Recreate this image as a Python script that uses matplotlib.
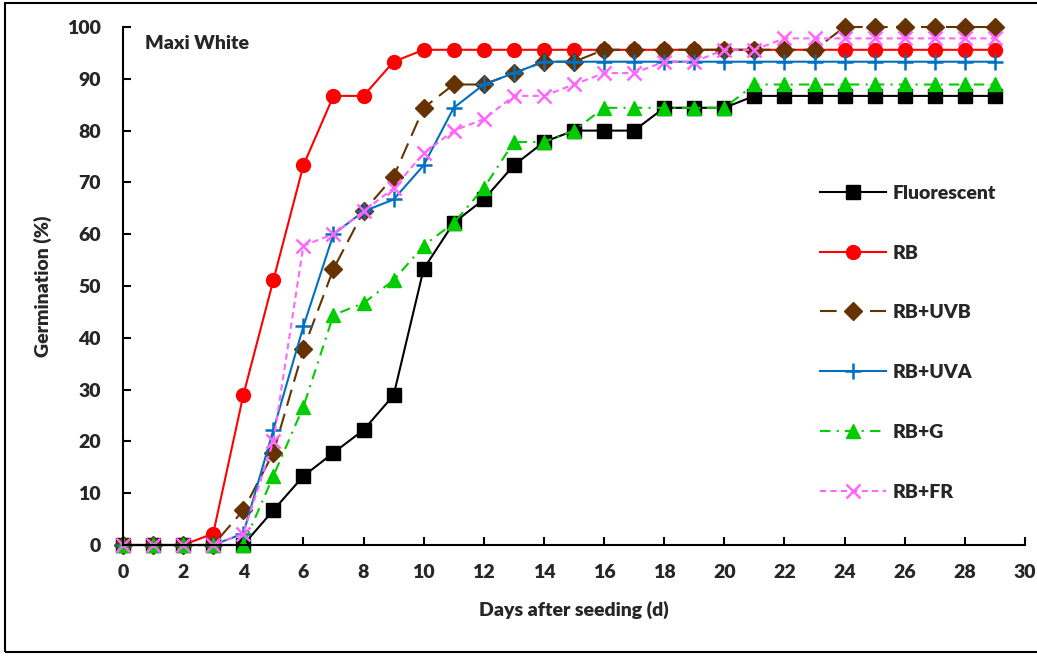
import numpy as np
import matplotlib.pyplot as plt
from matplotlib.patches import Rectangle

plt.rcParams['font.family'] = ['Lato', 'DejaVu Sans']
plt.rcParams['font.weight'] = 'heavy'
plt.rcParams['axes.labelweight'] = 'heavy'

days = np.arange(0, 30)

fluorescent = [0, 0, 0, 0, 0, 6.7, 13.3, 17.8, 22.2, 28.9, 53.3, 62.2, 66.7, 73.3, 77.8,
               80.0, 80.0, 80.0, 84.4, 84.4, 84.4, 86.7, 86.7, 86.7, 86.7, 86.7, 86.7, 86.7, 86.7, 86.7]
rb = [0, 0, 0, 2.2, 28.9, 51.1, 73.3, 86.7, 86.7, 93.3, 95.6, 95.6, 95.6, 95.6, 95.6,
      95.6, 95.6, 95.6, 95.6, 95.6, 95.6, 95.6, 95.6, 95.6, 95.6, 95.6, 95.6, 95.6, 95.6, 95.6]
rb_uvb = [0, 0, 0, 0, 6.7, 17.8, 37.8, 53.3, 64.4, 71.1, 84.4, 88.9, 88.9, 91.1, 93.3,
          93.3, 95.6, 95.6, 95.6, 95.6, 95.6, 95.6, 95.6, 95.6, 100, 100, 100, 100, 100, 100]
rb_uva = [0, 0, 0, 0, 2.2, 22.2, 42.2, 60.0, 64.4, 66.7, 73.3, 84.4, 88.9, 91.1, 93.3,
          93.3, 93.3, 93.3, 93.3, 93.3, 93.3, 93.3, 93.3, 93.3, 93.3, 93.3, 93.3, 93.3, 93.3, 93.3]
rb_g = [0, 0, 0, 0, 0, 13.3, 26.7, 44.4, 46.7, 51.1, 57.8, 62.2, 68.9, 77.8, 77.8,
        80.0, 84.4, 84.4, 84.4, 84.4, 84.4, 88.9, 88.9, 88.9, 88.9, 88.9, 88.9, 88.9, 88.9, 88.9]
rb_fr = [0, 0, 0, 0, 2.2, 20.0, 57.8, 60.0, 64.4, 68.9, 75.6, 80.0, 82.2, 86.7, 86.7,
         88.9, 91.1, 91.1, 93.3, 93.3, 95.6, 95.6, 97.8, 97.8, 97.8, 97.8, 97.8, 97.8, 97.8, 97.8]

txt = '#262626'

fig = plt.figure(figsize=(10.37, 6.56), dpi=100)
ax = fig.add_axes([123 / 1037, 1 - 545 / 656, (1025 - 123) / 1037, (545 - 27) / 656])

lw = 1.5
ax.plot(days, fluorescent, color='black', lw=lw, marker='s', ms=10, label='Fluorescent', clip_on=False)
ax.plot(days, rb, color='#FF0000', lw=lw, marker='o', ms=10, label='RB', clip_on=False)
ax.plot(days, rb_uvb, color='#663300', lw=lw, ls=(0, (8, 4)), marker='D', ms=9,
        label='RB+UVB', clip_on=False)
ax.plot(days, rb_uva, color='#0070C0', lw=lw, marker='+', ms=11, mew=1.8,
        label='RB+UVA', clip_on=False)
ax.plot(days, rb_g, color='#00CC00', lw=lw, ls=(0, (5, 3, 1, 3)), marker='^', ms=10,
        label='RB+G', clip_on=False)
ax.plot(days, rb_fr, color='#FF66FF', lw=lw, ls=(0, (3, 2)), marker='x', ms=10, mew=1.8,
        label='RB+FR', clip_on=False)

ax.set_xlim(0, 30)
ax.set_ylim(0, 100)
ax.set_xticks(np.arange(0, 31, 2))
ax.set_yticks(np.arange(0, 101, 10))
for s in ['top', 'right']:
    ax.spines[s].set_visible(False)
for s in ['left', 'bottom']:
    ax.spines[s].set_linewidth(1.5)
ax.tick_params(direction='in', length=6, width=1.5, labelsize=14, labelcolor=txt)
ax.tick_params(axis='y', pad=16)
ax.tick_params(axis='x', pad=14)

ax.set_xlabel('Days after seeding (d)', fontsize=14, color=txt, labelpad=14)
ax.set_ylabel('Germination (%)', fontsize=14, color=txt, labelpad=11)

ax.text(0.024, 0.985, 'Maxi White', transform=ax.transAxes, fontsize=14, color=txt,
        ha='left', va='top')

leg = ax.legend(loc='upper left', bbox_to_anchor=(810 / 1037, 1 - 175 / 656),
                bbox_transform=fig.transFigure, frameon=False, fontsize=14,
                handlelength=3.4, handletextpad=0.35, labelspacing=2.2, borderpad=0)
for t in leg.get_texts():
    t.set_color(txt)

# outer frame around the whole figure
fig.patches.append(Rectangle((5 / 1037, 4 / 656), 1.02, 649 / 656, transform=fig.transFigure,
                             fill=False, edgecolor='black', lw=1.5, clip_on=False))

fig.savefig('out.png', dpi=100)
